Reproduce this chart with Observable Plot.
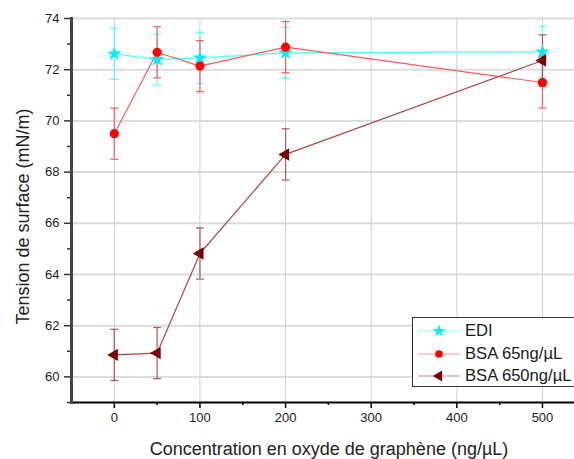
<!DOCTYPE html>
<html>
<head>
<meta charset="utf-8">
<script src="https://cdn.jsdelivr.net/npm/d3@7"></script>
<script src="https://cdn.jsdelivr.net/npm/@observablehq/plot@0.6"></script>
<style>
  html, body { margin: 0; padding: 0; background: #fff; }
  #wrap { position: relative; width: 574px; height: 459px; overflow: hidden; font-family: "Liberation Sans", Arial, sans-serif; }
  #legend { position: absolute; left: 412px; top: 317px; width: 200px; height: 70px; border: 1px solid #333; background: #fff; box-sizing: border-box; }
  .lg-row { position: absolute; left: 0; height: 22px; display: flex; align-items: center; white-space: nowrap; }
  .lg-row span { font-size: 16.6px; color: #1a1a1a; margin-left: 2px; }
</style>
</head>
<body>
<div id="wrap"></div>
<script>
// ---- data ----
const concentrations = [0, 50, 100, 200, 500];
const ediValues = [72.62, 72.40, 72.46, 72.66, 72.70];
const ediErrors = [1.0, 1.0, 1.0, 1.0, 1.0];
const bsa65Values = [69.50, 72.68, 72.14, 72.88, 71.50];
const bsa65Errors = [1.0, 1.0, 1.0, 1.0, 1.0];
const bsa650Values = [60.86, 60.93, 64.82, 68.69, 72.36];
const bsa650Errors = [1.0, 1.0, 1.0, 1.0, 1.0];
const seriesNames = ["EDI", "BSA 65ng/µL", "BSA 650ng/µL"];
const xTicks = [0, 100, 200, 300, 400, 500];
const xMinorTicks = [50, 150, 250, 350, 450];
const yTicks = [60, 62, 64, 66, 68, 70, 72, 74];
const yMinorTicks = [59, 61, 63, 65, 67, 69, 71, 73];
const xTitle = "Concentration en oxyde de graphène (ng/µL)";
const yTitle = "Tension de surface (mN/m)";

const styles = [
  {line: "#55ffff", bar: "#55ffff", fill: "#00f0f0", legendLine: "#88ffff", symbol: "star", r: 4.6, lr: 4, rotate: 0},
  {line: "#ff5a5a", bar: "#ff5a5a", fill: "#ff0000", legendLine: "#ff9a9a", symbol: "circle", r: 4.6, lr: 3.8, rotate: 0},
  {line: "#a84848", bar: "#b05858", fill: "#7a0000", legendLine: "#c89090", symbol: "triangle", r: 4.6, lr: 4, rotate: -90}
];
const valueSets = [ediValues, bsa65Values, bsa650Values];
const errorSets = [ediErrors, bsa65Errors, bsa650Errors];

const rows = [];
valueSets.forEach((vals, s) => {
  vals.forEach((v, i) => rows.push({series: s, x: concentrations[i], y: v, lo: v - errorSets[s][i], hi: v + errorSets[s][i]}));
});

const capSymbol = { draw(ctx) { ctx.moveTo(-4, 0); ctx.lineTo(4, 0); } };

const marks = [
  Plot.ruleY(yTicks, {stroke: "#dcdcdc", strokeWidth: 2}),
  Plot.ruleX(xTicks, {stroke: "#d0d0d0", strokeWidth: 1}),
  Plot.axisX({ticks: xMinorTicks, tickSize: 3, tickFormat: () => "", label: null, stroke: "#000", strokeWidth: 1.5}),
  Plot.axisY({ticks: yMinorTicks, tickSize: 4, tickFormat: () => "", label: null, stroke: "#333", strokeWidth: 1.5}),
  Plot.axisX({ticks: xTicks, tickSize: 6, tickPadding: 4, fontSize: 13, label: null, stroke: "#000", strokeWidth: 1.5, fill: "#222"}),
  Plot.axisY({ticks: yTicks, tickSize: 7, tickPadding: 5, fontSize: 13, label: null, stroke: "#333", strokeWidth: 1.5, fill: "#222"}),
  Plot.frame({anchor: "bottom", stroke: "#000", strokeWidth: 2}),
  Plot.frame({anchor: "left", stroke: "#444", strokeWidth: 3}),
  Plot.text([yTitle], {frameAnchor: "left", textAnchor: "middle", lineAnchor: "middle", dx: -48, dy: 6, rotate: -90, fontSize: 18, fill: "#222"}),
  Plot.text([xTitle], {frameAnchor: "bottom", textAnchor: "middle", lineAnchor: "middle", dy: 47, dx: 6, fontSize: 18, fill: "#222"})
];

styles.forEach((st, s) => {
  const d = rows.filter(r => r.series === s);
  marks.push(
    Plot.line(d, {x: "x", y: "y", stroke: st.line, strokeWidth: 1.2}),
    Plot.ruleX(d, {x: "x", y1: "lo", y2: "hi", stroke: st.bar, strokeWidth: 1.2}),
    Plot.dot(d, {x: "x", y: "lo", symbol: capSymbol, stroke: st.bar, strokeWidth: 1.2, r: 4}),
    Plot.dot(d, {x: "x", y: "hi", symbol: capSymbol, stroke: st.bar, strokeWidth: 1.2, r: 4})
  );
});
styles.forEach((st, s) => {
  const d = rows.filter(r => r.series === s);
  marks.push(Plot.dot(d, {x: "x", y: "y", symbol: st.symbol, r: st.r, fill: st.fill, stroke: "none", rotate: st.rotate}));
});

const chart = Plot.plot({
  width: 574,
  height: 459,
  marginLeft: 71,
  marginRight: 0,
  marginTop: 18,
  marginBottom: 57,
  style: {fontFamily: "'Liberation Sans', Arial, sans-serif", background: "#fff"},
  x: {domain: [-50, 537.4]},
  y: {domain: [59, 74]},
  marks
});
const wrap = document.getElementById("wrap");
wrap.appendChild(chart);

// legend
const legend = document.createElement("div");
legend.id = "legend";
const symbolsFor = [d3.symbolStar, d3.symbolCircle, d3.symbolTriangle];
const rowTops = [2, 25, 47];
styles.forEach((st, s) => {
  const row = document.createElement("div");
  row.className = "lg-row";
  row.style.top = rowTops[s] + "px";
  const svg = d3.create("svg").attr("width", 50).attr("height", 22);
  svg.append("line").attr("x1", 5).attr("x2", 47).attr("y1", 11).attr("y2", 11).attr("stroke", st.legendLine).attr("stroke-width", 1.2);
  svg.append("path").attr("d", d3.symbol(symbolsFor[s], Math.PI * st.lr * st.lr)())
    .attr("transform", `translate(26,11) rotate(${st.rotate})`).attr("fill", st.fill);
  row.appendChild(svg.node());
  const label = document.createElement("span");
  label.textContent = seriesNames[s];
  row.appendChild(label);
  legend.appendChild(row);
});
wrap.appendChild(legend);
</script>
</body>
</html>
